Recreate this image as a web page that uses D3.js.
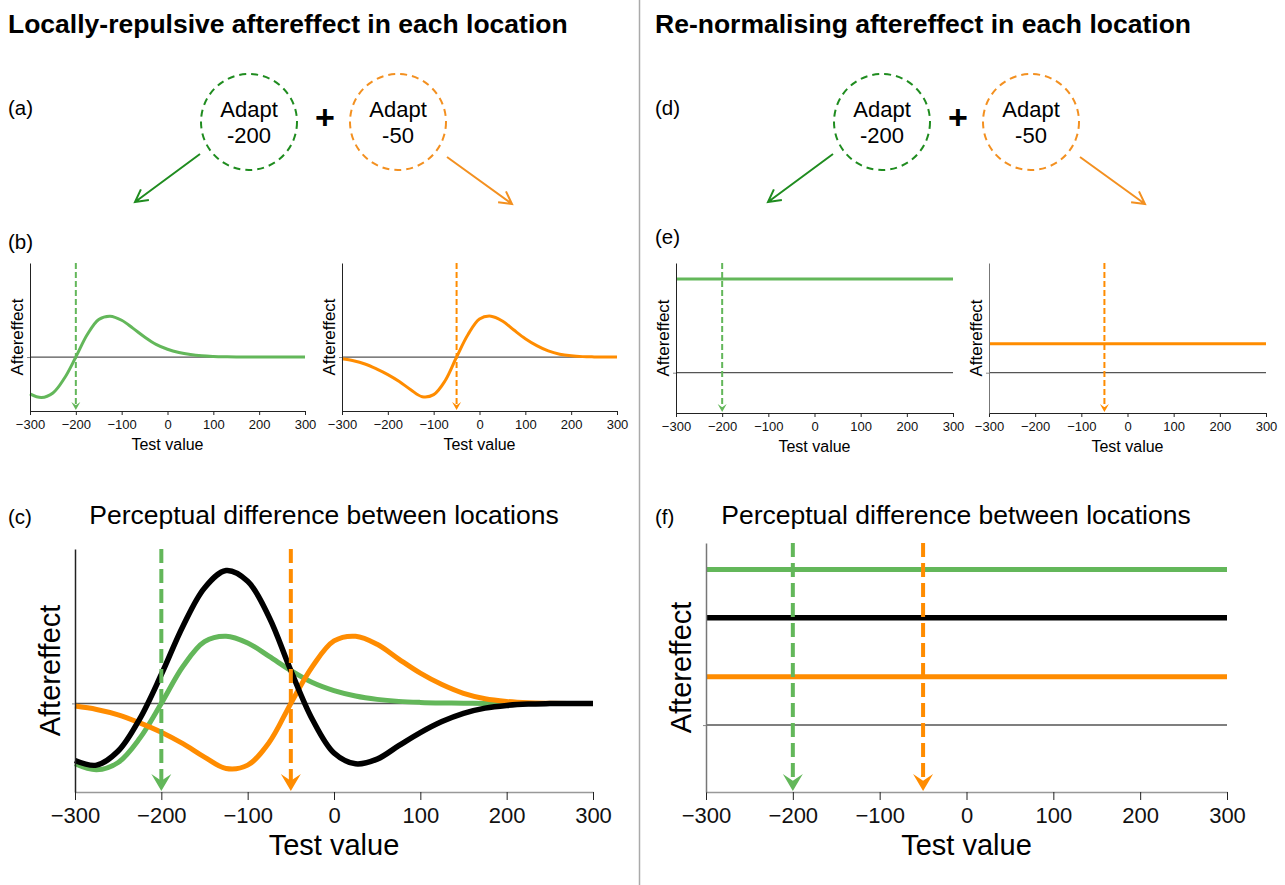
<!DOCTYPE html>
<html>
<head>
<meta charset="utf-8">
<script src="https://cdn.jsdelivr.net/npm/d3@7"></script>
<style>
  body { margin: 0; background: #fff; }
  svg { display: block; }
</style>
</head>
<body>
<div id="chart"></div>
<script>
// values (aftereffect in arbitrary units, peak of one adaptor = 1)
const testValues = [-300, -275, -250, -225, -200, -175, -150, -125, -100, -75, -50, -25, 0, 25, 50, 75, 100, 125, 150, 175, 200, 225, 250, 275, 300];
const greenAftereffect = [-0.90, -0.99, -0.88, -0.52, 0, 0.55, 0.92, 1.00, 0.90, 0.70, 0.49, 0.31, 0.19, 0.11, 0.06, 0.03, 0.015, 0.007, 0.003, 0, 0, 0, 0, 0, 0];
const orangeAftereffect = [-0.04, -0.09, -0.17, -0.29, -0.43, -0.60, -0.80, -0.97, -0.92, -0.58, 0, 0.55, 0.93, 1.00, 0.88, 0.66, 0.45, 0.28, 0.15, 0.07, 0.03, 0.01, 0.003, 0, 0];
const differenceAftereffect = [-0.85, -0.92, -0.71, -0.23, 0.43, 1.15, 1.72, 1.98, 1.82, 1.28, 0.49, -0.24, -0.74, -0.90, -0.83, -0.63, -0.435, -0.27, -0.147, -0.07, -0.03, -0.01, -0.003, 0, 0];

// re-normalising model: constant shift for each adaptor and their difference
const renormSeries = ["adapt -200", "adapt -50", "difference"];
const renormLevels = [1.0, 0.31, 0.69];

const adaptValues = [-200, -50];
const xTicks = [-300, -200, -100, 0, 100, 200, 300];

const FONT = '"Liberation Sans", Arial, Helvetica, sans-serif';
const GREEN = "#63b75a";
const GREEN_DARK = "#1f8c1f";
const ORANGE = "#ff8c00";
const ORANGE_DARK = "#f39020";

const width = 1285;
const height = 885;

const svg = d3.select("#chart")
  .append("svg")
  .attr("width", width)
  .attr("height", height)
  .style("font-family", FONT);

svg.append("rect").attr("width", width).attr("height", height).attr("fill", "#fff");

// divider between the two halves
svg.append("line")
  .attr("x1", 639.5).attr("x2", 639.5)
  .attr("y1", 0).attr("y2", height)
  .attr("stroke", "#aaa")
  .attr("stroke-width", 1.5);

// headings
svg.append("text").attr("x", 8).attr("y", 33)
  .attr("font-size", 26.5).attr("font-weight", "bold")
  .text("Locally-repulsive aftereffect in each location");
svg.append("text").attr("x", 655).attr("y", 33)
  .attr("font-size", 26.5).attr("font-weight", "bold")
  .text("Re-normalising aftereffect in each location");

// panel letters
const letters = [
  ["(a)", 8, 115], ["(b)", 8, 249], ["(c)", 8, 524],
  ["(d)", 655, 115], ["(e)", 655, 244], ["(f)", 655, 524],
];
letters.forEach(([t, lx, ly]) => {
  svg.append("text").attr("x", lx).attr("y", ly).attr("font-size", 20.5).text(t);
});

// adaptor circles with arrows, (a) and (d)
function drawAdapters(dx) {
  const g = svg.append("g").attr("transform", `translate(${dx},0)`);
  const centers = [249, 398];
  const strokes = [GREEN_DARK, ORANGE_DARK];
  adaptValues.forEach((v, i) => {
    g.append("circle")
      .attr("cx", centers[i]).attr("cy", 122).attr("r", 48)
      .attr("fill", "none")
      .attr("stroke", strokes[i])
      .attr("stroke-width", 2)
      .attr("stroke-dasharray", "7,5");
    g.append("text").attr("x", centers[i]).attr("y", 117)
      .attr("text-anchor", "middle").attr("font-size", 22).text("Adapt");
    g.append("text").attr("x", centers[i]).attr("y", 143)
      .attr("text-anchor", "middle").attr("font-size", 22).text(String(v));
  });
  g.append("text").attr("x", 325).attr("y", 129)
    .attr("text-anchor", "middle").attr("font-size", 34).attr("font-weight", "bold")
    .text("+");

  const arrows = [
    { from: [200, 154], to: [135, 202], color: GREEN_DARK },
    { from: [447, 157], to: [512, 204], color: ORANGE_DARK },
  ];
  arrows.forEach(a => {
    const ang = Math.atan2(a.to[1] - a.from[1], a.to[0] - a.from[0]);
    const len = 14, spread = 0.5;
    const p1 = [a.to[0] - len * Math.cos(ang - spread), a.to[1] - len * Math.sin(ang - spread)];
    const p2 = [a.to[0] - len * Math.cos(ang + spread), a.to[1] - len * Math.sin(ang + spread)];
    g.append("path")
      .attr("d", `M${a.from}L${a.to}M${p1}L${a.to}L${p2}`)
      .attr("fill", "none")
      .attr("stroke", a.color)
      .attr("stroke-width", 2);
  });
}
drawAdapters(0);
drawAdapters(633);

// one aftereffect plot
function drawPanel(p) {
  const x = d3.scaleLinear().domain(d3.extent(testValues)).range(p.xRange);
  const y = d3.scaleLinear().domain(p.yDomain).range(p.yRange);
  const g = svg.append("g");

  // zero line
  g.append("line")
    .attr("x1", x.range()[0]).attr("x2", x.range()[1])
    .attr("y1", y(0)).attr("y2", y(0))
    .attr("stroke", "#555")
    .attr("stroke-width", p.big ? 1.5 : 1.2);

  const line = d3.line()
    .x(d => x(d[0]))
    .y(d => y(d[1]))
    .curve(d3.curveCatmullRom.alpha(0.5));

  p.series.forEach(s => {
    const data = s.values
      ? testValues.map((t, i) => [t, s.values[i]])
      : d3.extent(testValues).map(t => [t, s.level]);
    g.append("path")
      .datum(data)
      .attr("d", line)
      .attr("fill", "none")
      .attr("stroke", s.color)
      .attr("stroke-width", s.width)
      .attr("stroke-linejoin", "round");
  });

  // axes
  const xAxis = g.append("g")
    .attr("transform", `translate(0,${p.yRange[0]})`)
    .call(d3.axisBottom(x).tickValues(xTicks)
      .tickSize(p.big ? 8 : 4).tickSizeOuter(0).tickPadding(p.big ? 7 : 5))
    .attr("font-family", FONT)
    .attr("font-size", p.big ? 22 : 13);
  xAxis.select(".domain").attr("stroke", p.big ? "#999" : "#222").attr("stroke-width", p.big ? 1.5 : 1);
  xAxis.selectAll(".tick line").attr("stroke", "#222");
  xAxis.selectAll(".tick text").attr("fill", "#111");

  const yAxis = g.append("g")
    .attr("transform", `translate(${p.xRange[0]},0)`)
    .call(d3.axisLeft(y).tickValues([0]).tickSize(3).tickSizeOuter(0).tickFormat(""));
  yAxis.select(".domain").attr("stroke", p.yAxisColor || "#222").attr("stroke-width", p.big ? 1.5 : 1);
  yAxis.selectAll(".tick line").attr("stroke", "#888");

  // adaptor markers: dashed line ending in an arrowhead on the axis
  const aw = p.big ? 10 : 4.5, ah = p.big ? 17 : 8;
  p.adapts.forEach(a => {
    const ax = x(a.value);
    const tip = p.yRange[0] - 1;
    g.append("line")
      .attr("x1", ax).attr("x2", ax)
      .attr("y1", p.yRange[1]).attr("y2", tip - ah * 0.55)
      .attr("stroke", a.color)
      .attr("stroke-width", p.big ? 4 : 2)
      .attr("stroke-dasharray", p.big ? "14,6" : "6,3");
    g.append("path")
      .attr("d", `M${ax},${tip}L${ax - aw},${tip - ah}L${ax},${tip - ah * 0.6}L${ax + aw},${tip - ah}Z`)
      .attr("fill", a.color);
  });

  // labels
  g.append("text")
    .attr("x", (p.xRange[0] + p.xRange[1]) / 2)
    .attr("y", p.yRange[0] + (p.big ? 63 : 39))
    .attr("text-anchor", "middle")
    .attr("font-size", p.big ? 29 : 16)
    .text("Test value");
  g.append("text")
    .attr("transform", `translate(${p.xRange[0] - (p.big ? 15 : 7)},${(p.yRange[0] + p.yRange[1]) / 2}) rotate(-90)`)
    .attr("text-anchor", "middle")
    .attr("font-size", p.big ? 29 : 17)
    .text("Aftereffect");

  if (p.title) {
    g.append("text")
      .attr("x", p.title.x).attr("y", 524)
      .attr("text-anchor", "middle")
      .attr("font-size", 26.5)
      .text(p.title.text);
  }
}

const curveDomain = [-1.32, 2.3];
const levelDomain = [-0.43, 1.17];

// (b)
drawPanel({
  xRange: [30, 305], yRange: [411, 263], yDomain: curveDomain,
  series: [{ values: greenAftereffect, color: GREEN, width: 3 }],
  adapts: [{ value: adaptValues[0], color: GREEN }],
});
drawPanel({
  xRange: [342, 617], yRange: [411, 263], yDomain: curveDomain,
  series: [{ values: orangeAftereffect, color: ORANGE, width: 3 }],
  adapts: [{ value: adaptValues[1], color: ORANGE }],
});

// (c)
drawPanel({
  big: true,
  xRange: [75, 593], yRange: [792, 549], yDomain: curveDomain,
  series: [
    { values: greenAftereffect, color: GREEN, width: 5 },
    { values: orangeAftereffect, color: ORANGE, width: 5 },
    { values: differenceAftereffect, color: "#000", width: 5.5 },
  ],
  adapts: [{ value: adaptValues[0], color: GREEN }, { value: adaptValues[1], color: ORANGE }],
  title: { x: 324, text: "Perceptual difference between locations" },
});

// (e)
drawPanel({
  xRange: [676, 953], yRange: [413, 263], yDomain: levelDomain,
  series: [{ level: renormLevels[0], color: GREEN, width: 3 }],
  adapts: [{ value: adaptValues[0], color: GREEN }],
});
drawPanel({
  xRange: [989, 1266], yRange: [413, 263], yDomain: levelDomain,
  series: [{ level: renormLevels[1], color: ORANGE, width: 3 }],
  adapts: [{ value: adaptValues[1], color: ORANGE }],
  yAxisColor: "#777",
});

// (f)
drawPanel({
  big: true,
  xRange: [706, 1227], yRange: [792, 543], yDomain: levelDomain,
  series: [
    { level: renormLevels[0], color: GREEN, width: 5 },
    { level: renormLevels[2], color: "#000", width: 5.5 },
    { level: renormLevels[1], color: ORANGE, width: 5 },
  ],
  adapts: [{ value: adaptValues[0], color: GREEN }, { value: adaptValues[1], color: ORANGE }],
  yAxisColor: "#777",
  title: { x: 956, text: "Perceptual difference between locations" },
});
</script>
</body>
</html>
